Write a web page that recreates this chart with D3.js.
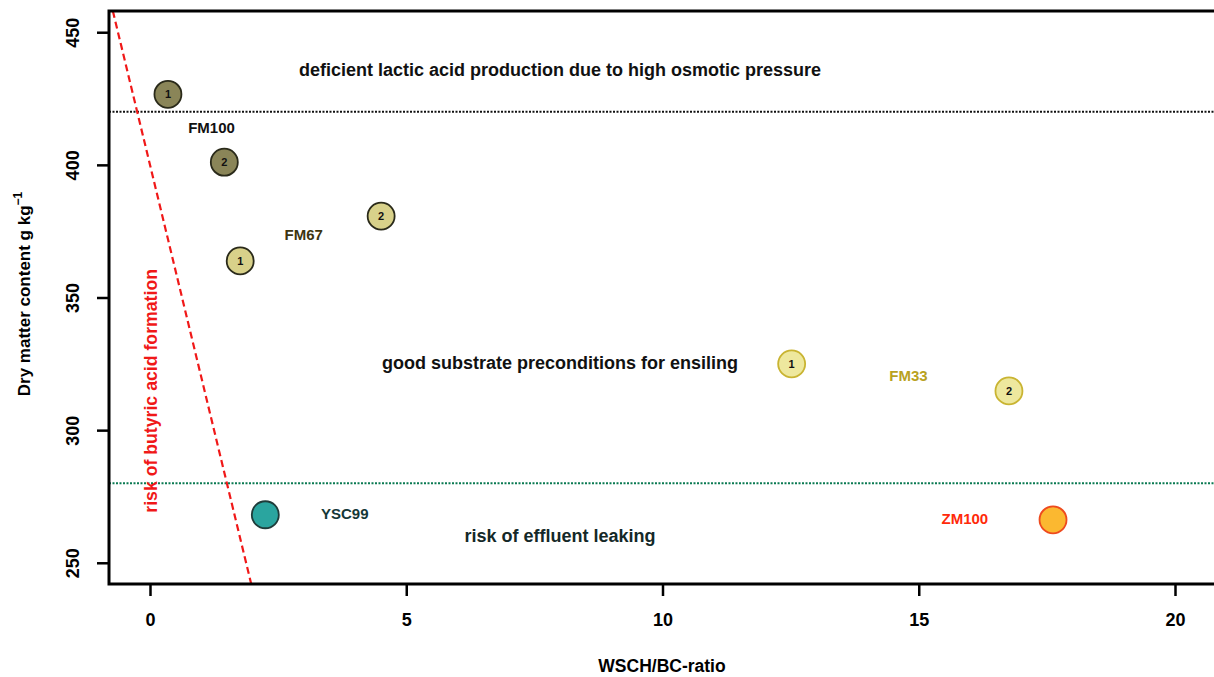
<!DOCTYPE html>
<html><head><meta charset="utf-8">
<script src="https://cdn.jsdelivr.net/npm/d3@7"></script>
<style>
html,body{margin:0;padding:0;background:#fff;}
svg{display:block;font-family:"Liberation Sans",Arial,Helvetica,sans-serif;font-weight:bold;}
</style></head>
<body><svg id="chart" width="1214" height="677"></svg>
<script>
// ---- data ----
const silages = ["FM100","FM100","FM67","FM67","FM33","FM33","YSC99","ZM100"];
const replicate = ["1","2","1","2","1","2","",""];
const wschBcRatio = [0.35, 1.45, 1.76, 4.51, 12.52, 16.76, 2.25, 17.62];
const dryMatter = [426.6, 401.0, 363.8, 380.7, 325.0, 314.8, 268.1, 266.2];

const groupNames = ["FM100","FM67","FM33","YSC99","ZM100"];
const groupFill = ["#8a8558","#d8d18a","#eee89e","#2aa59f","#fbb830"];
const groupStroke = ["#2a2a1a","#2a2a1a","#c9b432","#1f3c3a","#ee4a1e"];
const groupLabelColor = ["#111111","#3d3510","#b9a21e","#153838","#ff2a0a"];
const groupLabelRatio = [1.2, 3.0, 14.8, 3.8, 15.9];
const groupLabelDM = [413.5, 373.0, 320.0, 268.1, 266.2];

const xTicks = [0,5,10,15,20];
const yTicks = [250,300,350,400,450];

const osmoticLimitDM = 420;
const effluentLimitDM = 280;
// butyric acid boundary line: ratio = (400 - DM)/80
const butyricLineDM = [458, 242];
const butyricLineRatio = butyricLineDM.map(d => (400 - d) / 80);

const zoneTexts = ["deficient lactic acid production due to high osmotic pressure",
                   "good substrate preconditions for ensiling",
                   "risk of effluent leaking"];
const zoneRatio = [8.0, 8.0, 8.0];
const zoneDM = [435.3, 325.0, 259.8];
const zoneColor = ["#111111","#111111","#142828"];
const butyricText = "risk of butyric acid formation";
const butyricTextPos = [0.04, 314.8];

// ---- chart ----
const svg = d3.select("#chart");
const x = d3.scaleLinear().domain([-0.8, 20.8]).range([109, 1216]);
const y = d3.scaleLinear().domain([242, 458]).range([584, 11]);

// reference lines
svg.append("line").attr("x1", x(-0.8)).attr("x2", x(20.8))
  .attr("y1", y(osmoticLimitDM)).attr("y2", y(osmoticLimitDM))
  .attr("stroke","#111").attr("stroke-width",2).attr("stroke-dasharray","2,1.5");
svg.append("line").attr("x1", x(-0.8)).attr("x2", x(20.8))
  .attr("y1", y(effluentLimitDM)).attr("y2", y(effluentLimitDM))
  .attr("stroke","#0a7a52").attr("stroke-width",2).attr("stroke-dasharray","2,1.5");
svg.append("line").attr("x1", x(butyricLineRatio[0])).attr("y1", y(butyricLineDM[0]))
  .attr("x2", x(butyricLineRatio[1])).attr("y2", y(butyricLineDM[1]))
  .attr("stroke","#f01818").attr("stroke-width",2.2).attr("stroke-dasharray","7,4");

// axes
const xAxis = svg.append("g").attr("transform", `translate(0,${y(242)})`)
  .call(d3.axisBottom(x).tickValues(xTicks).tickSize(12).tickPadding(17).tickFormat(d3.format("d")));
const yAxis = svg.append("g").attr("transform", `translate(${x(-0.8)},0)`)
  .call(d3.axisLeft(y).tickValues(yTicks).tickSize(12).tickPadding(4).tickFormat(d3.format("d")));
[xAxis, yAxis].forEach(g => {
  g.select(".domain").remove();
  g.selectAll(".tick line").attr("stroke","#000").attr("stroke-width",2.5);
  g.selectAll(".tick text").attr("fill","#000").style("font-size","18px")
    .style("font-family","'Liberation Sans',Arial,sans-serif").style("font-weight","bold");
});
yAxis.selectAll(".tick text").attr("text-anchor","middle").attr("dy",0)
  .attr("x",0).attr("y",0)
  .attr("transform","translate(-35,0) rotate(-90)")
  .attr("dominant-baseline","middle");

// box (top, left, bottom)
svg.append("path")
  .attr("d", `M${x(20.8)},${y(458)} L${x(-0.8)},${y(458)} L${x(-0.8)},${y(242)} L${x(20.8)},${y(242)}`)
  .attr("fill","none").attr("stroke","#000").attr("stroke-width",3);

// axis titles
svg.append("text").attr("x", 662).attr("y", 667).attr("text-anchor","middle")
  .attr("dominant-baseline","middle")
  .style("font-size","17.5px").text("WSCH/BC-ratio");
const yt = svg.append("text").attr("transform","translate(30,294) rotate(-90)")
  .attr("text-anchor","middle").style("font-size","17px");
yt.append("tspan").text("Dry matter content g kg");
yt.append("tspan").attr("dy",-8).style("font-size","12px").text("\u22121");

// zone texts
svg.selectAll(".zone").data(zoneTexts).enter().append("text")
  .attr("x",(d,i)=>x(zoneRatio[i])).attr("y",(d,i)=>y(zoneDM[i]))
  .attr("text-anchor","middle").attr("dominant-baseline","middle")
  .attr("fill",(d,i)=>zoneColor[i]).style("font-size","18px")
  .text(d=>d);
svg.append("text")
  .attr("transform",`translate(${x(butyricTextPos[0])},${y(butyricTextPos[1])}) rotate(-90)`)
  .attr("text-anchor","middle").attr("dominant-baseline","middle")
  .attr("fill","#f01818").style("font-size","17.7px")
  .text(butyricText);

// group labels
svg.selectAll(".glab").data(groupNames).enter().append("text")
  .attr("x",(d,i)=>x(groupLabelRatio[i])).attr("y",(d,i)=>y(groupLabelDM[i]))
  .attr("text-anchor","middle").attr("dominant-baseline","middle")
  .attr("fill",(d,i)=>groupLabelColor[i]).style("font-size","15px")
  .text(d=>d);

// points
const pts = silages.map((s,i)=>({g: groupNames.indexOf(s), rep: replicate[i], xv: wschBcRatio[i], yv: dryMatter[i]}));
const pg = svg.selectAll(".pt").data(pts).enter().append("g")
  .attr("transform", d=>`translate(${x(d.xv)},${y(d.yv)})`);
pg.append("circle").attr("r",13.5)
  .attr("fill",d=>groupFill[d.g]).attr("stroke",d=>groupStroke[d.g]).attr("stroke-width",1.8);
pg.append("text").attr("text-anchor","middle").attr("dominant-baseline","central")
  .attr("fill","#111").style("font-size","11px").text(d=>d.rep);
</script></body></html>
